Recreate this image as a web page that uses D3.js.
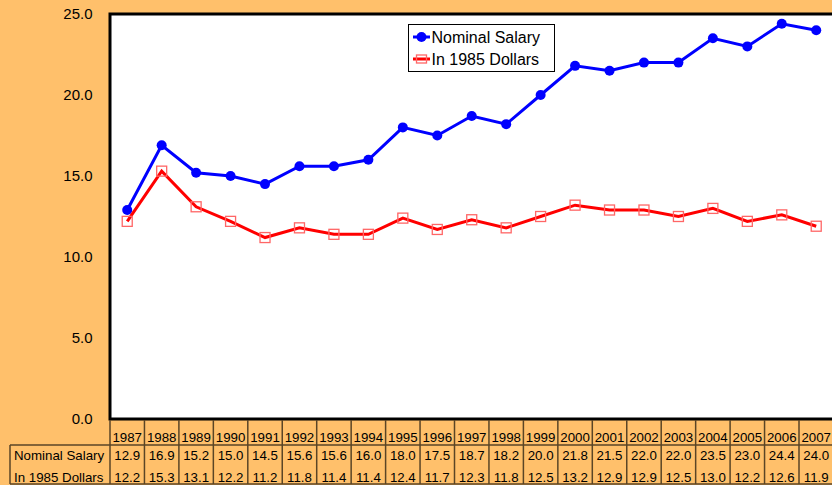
<!DOCTYPE html>
<html><head><meta charset="utf-8">
<script src="https://cdn.jsdelivr.net/npm/d3@7"></script>
<style>body{margin:0;background:#FFC06B;}svg{display:block;font-family:"Liberation Sans",Arial,sans-serif;}</style>
</head><body><svg id="c" width="832" height="485"></svg>
<script>
const years = ["1987","1988","1989","1990","1991","1992","1993","1994","1995","1996","1997","1998","1999","2000","2001","2002","2003","2004","2005","2006","2007"];
const nominal = [12.9,16.9,15.2,15.0,14.5,15.6,15.6,16.0,18.0,17.5,18.7,18.2,20.0,21.8,21.5,22.0,22.0,23.5,23.0,24.4,24.0];
const real1985 = [12.2,15.3,13.1,12.2,11.2,11.8,11.4,11.4,12.4,11.7,12.3,11.8,12.5,13.2,12.9,12.9,12.5,13.0,12.2,12.6,11.9];
const yTicks = [0,5,10,15,20,25];
const seriesNames = ["Nominal Salary","In 1985 Dollars"];

const svg = d3.select("#c");
svg.append("rect").attr("width",832).attr("height",485).attr("fill","#FFC06B");
const L=110, T=14, B=419, bw=34.45;
const x = d3.scaleBand().domain(years).range([L, L+bw*years.length]).padding(0);
const y = d3.scaleLinear().domain([0,25]).range([B,T]);

// plot area
svg.append("rect").attr("x",L).attr("y",T).attr("width",x.range()[1]-L+5).attr("height",B-T)
  .attr("fill","#fff").attr("stroke","#000").attr("stroke-width",3);

// y axis labels
const yAxis = d3.axisLeft(y).tickValues(yTicks).tickFormat(d3.format(".1f")).tickSize(0).tickPadding(0);
const ga = svg.append("g").attr("transform","translate(92.5,0)").call(yAxis);
ga.select(".domain").remove();
ga.selectAll("text").attr("font-size",15).attr("fill","#000").attr("font-family","Liberation Sans, Arial, sans-serif");

const cx = d => x(d)+x.bandwidth()/2;
const line = arr => d3.line().x((d,i)=>cx(years[i])).y(d=>y(d))(arr);

svg.append("path").attr("d",line(nominal)).attr("fill","none").attr("stroke","#0000FF").attr("stroke-width",3);
svg.selectAll(".dot").data(nominal).enter().append("circle")
  .attr("cx",(d,i)=>cx(years[i])).attr("cy",d=>y(d)).attr("r",5).attr("fill","#0000FF");

svg.append("path").attr("d",line(real1985)).attr("fill","none").attr("stroke","#FF0000").attr("stroke-width",3);
svg.selectAll(".sq").data(real1985).enter().append("rect")
  .attr("x",(d,i)=>cx(years[i])-5).attr("y",d=>y(d)-5).attr("width",10).attr("height",10)
  .attr("fill","none").attr("stroke","#FF6666").attr("stroke-width",1.3);

// legend
const lg = svg.append("g");
lg.append("rect").attr("x",408.5).attr("y",24.5).attr("width",146).attr("height",47).attr("fill","#fff").attr("stroke","#000").attr("stroke-width",1);
lg.append("line").attr("x1",413).attr("x2",430).attr("y1",37).attr("y2",37).attr("stroke","#0000FF").attr("stroke-width",3);
lg.append("circle").attr("cx",421.5).attr("cy",37).attr("r",5).attr("fill","#0000FF");
lg.append("line").attr("x1",413).attr("x2",430).attr("y1",59).attr("y2",59).attr("stroke","#FF0000").attr("stroke-width",3);
lg.append("rect").attr("x",416.5).attr("y",55).attr("width",10).attr("height",8).attr("fill","none").attr("stroke","#FF6666").attr("stroke-width",1.3);
lg.append("text").attr("x",431.5).attr("y",42.7).attr("font-size",16).text(seriesNames[0]);
lg.append("text").attr("x",431.5).attr("y",64.5).attr("font-size",16).text(seriesNames[1]);

// data table
const tg = svg.append("g");
const R = x.range()[1];
const lc = "#5a4526";
years.forEach(yr=>{
  tg.append("line").attr("x1",x(yr)).attr("x2",x(yr)).attr("y1",420).attr("y2",484).attr("stroke",lc).attr("stroke-width",1.5);
});
tg.append("line").attr("x1",R).attr("x2",R).attr("y1",420).attr("y2",484).attr("stroke",lc).attr("stroke-width",1.5);
tg.append("line").attr("x1",10).attr("x2",R).attr("y1",445).attr("y2",445).attr("stroke",lc).attr("stroke-width",1.5);
tg.append("line").attr("x1",10).attr("x2",R).attr("y1",484).attr("y2",484).attr("stroke",lc).attr("stroke-width",1.5);
tg.append("line").attr("x1",10).attr("x2",10).attr("y1",445).attr("y2",484).attr("stroke",lc).attr("stroke-width",1.5);

tg.selectAll(".yr").data(years).enter().append("text")
  .attr("x",d=>cx(d)).attr("y",442).attr("text-anchor","middle").attr("font-size",13.3).text(d=>d);
tg.selectAll(".v1").data(nominal).enter().append("text")
  .attr("x",(d,i)=>cx(years[i])).attr("y",460).attr("text-anchor","middle").attr("font-size",13.3).text(d=>d.toFixed(1));
tg.selectAll(".v2").data(real1985).enter().append("text")
  .attr("x",(d,i)=>cx(years[i])).attr("y",481.5).attr("text-anchor","middle").attr("font-size",13.3).text(d=>d.toFixed(1));
tg.append("text").attr("x",14).attr("y",460).attr("font-size",13.3).text(seriesNames[0]);
tg.append("text").attr("x",14).attr("y",481.5).attr("font-size",13.3).text(seriesNames[1]);
</script></body></html>
